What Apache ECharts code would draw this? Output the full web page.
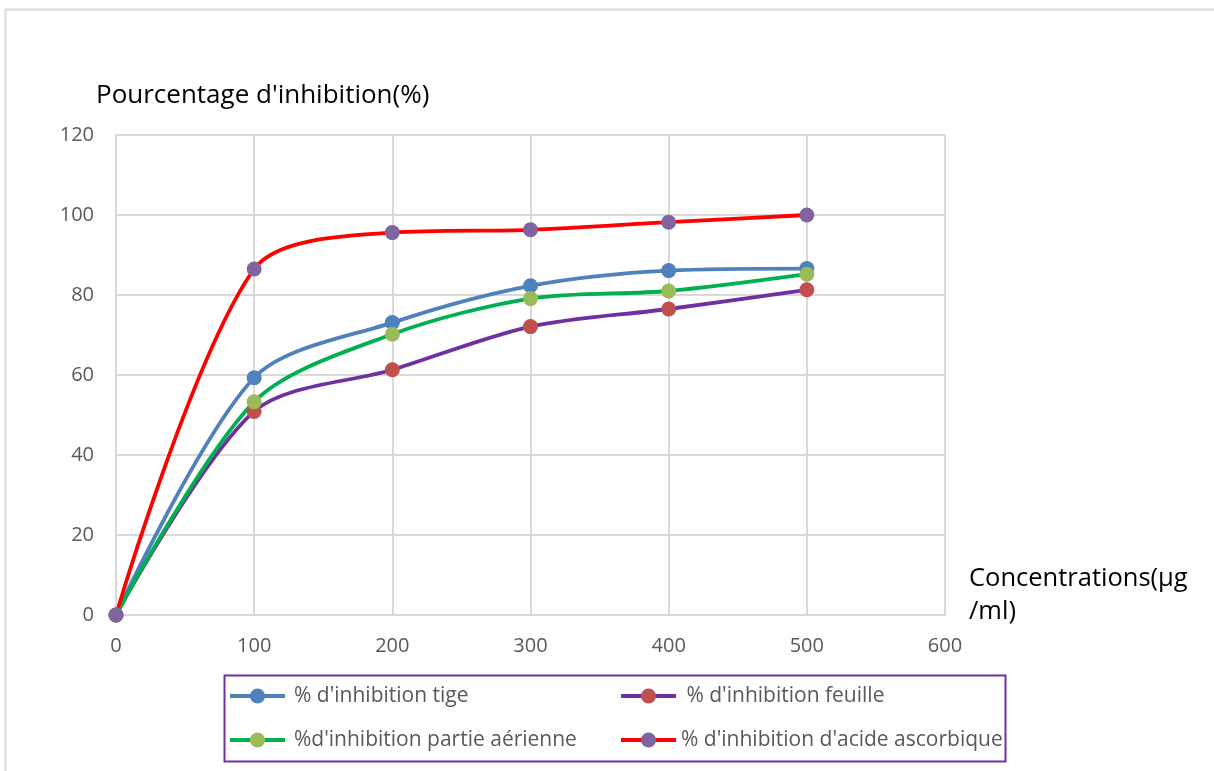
<html>
<head>
<meta http-equiv="content-type" content="text/html; charset=utf-8">
<script src="https://cdn.jsdelivr.net/npm/echarts@6/dist/echarts.min.js"></script>
<style>
html, body { margin: 0; padding: 0; background: #ffffff; }
#chart { width: 1214px; height: 771px; }
</style>
<title>Pourcentage d'inhibition</title>
</head>
<body>
<div id="chart"></div>
<script type="text/javascript">
////////////////////////////////////////////////////////////////////////////
// data
var concentrations = [0, 100, 200, 300, 400, 500];
var tige = [0, 59.3, 73.1, 82.3, 86.1, 86.6];
var feuille = [0, 50.9, 61.3, 72.1, 76.5, 81.3];
var partieAerienne = [0, 53.3, 70.2, 79.1, 81.0, 85.2];
var acideAscorbique = [0, 86.5, 95.6, 96.3, 98.2, 100];

var names = [
	"% d'inhibition tige",
	" % d'inhibition feuille",
	"%d'inhibition partie aérienne",
	"% d'inhibition d'acide ascorbique"
];

////////////////////////////////////////////////////////////////////////////
var font = "'Open Sans', sans-serif";

function pairs(ys) {
	var d = [];
	for (var i = 0; i < concentrations.length; i++) d.push([concentrations[i], ys[i]]);
	return d;
}

function mkSeries(name, ys, lineCol, dotCol) {
	return {
		name: name,
		type: 'line',
		data: pairs(ys),
		smooth: 0.3,
		symbol: 'circle',
		symbolSize: 15,
		lineStyle: { color: lineCol, width: 3.8 },
		itemStyle: { color: dotCol },
		emphasis: { disabled: true }
	};
}

function legendText(padLeft) {
	return { color: '#595959', fontSize: 21, fontFamily: font, lineHeight: 24, padding: [0, 0, 0, padLeft] };
}

var option = {
	animation: false,
	backgroundColor: '#ffffff',
	grid: { left: 116, right: 269, top: 135, bottom: 156 },
	title: [
		{
			text: "Pourcentage d'inhibition(%)",
			left: 91, top: 76,
			textStyle: { color: '#000000', fontSize: 26, fontWeight: 'normal', fontFamily: font, lineHeight: 30 }
		},
		{
			text: "Concentrations(µg\n/ml)",
			left: 964, top: 557,
			textStyle: { color: '#000000', fontSize: 25.5, fontWeight: 'normal', fontFamily: font, lineHeight: 33 }
		}
	],
	xAxis: {
		type: 'value',
		min: 0, max: 600, interval: 100,
		axisLine: { show: true, lineStyle: { color: '#d9d9d9', width: 1.5 } },
		axisTick: { show: false },
		splitLine: { show: true, lineStyle: { color: '#d9d9d9', width: 2 } },
		axisLabel: { color: '#595959', fontSize: 20, fontFamily: font, margin: 21 }
	},
	yAxis: {
		type: 'value',
		min: 0, max: 120, interval: 20,
		axisLine: { show: true, lineStyle: { color: '#d9d9d9', width: 1.5 } },
		axisTick: { show: false },
		splitLine: { show: true, lineStyle: { color: '#d9d9d9', width: 2 } },
		axisLabel: { color: '#595959', fontSize: 20, fontFamily: font, margin: 22 }
	},
	legend: [
		{
			data: [names[0], names[2]],
			orient: 'vertical',
			left: 228, top: 684,
			padding: 0,
			itemWidth: 55, itemHeight: 19, itemGap: 20,
			lineStyle: { width: 4 },
			textStyle: legendText(4),
			selectedMode: false
		},
		{
			data: [names[1], names[3]],
			orient: 'vertical',
			left: 619, top: 684,
			padding: 0,
			itemWidth: 55, itemHeight: 19, itemGap: 20,
			lineStyle: { width: 4 },
			textStyle: legendText(0),
			selectedMode: false
		}
	],
	graphic: [
		{
			type: 'rect', left: 3, top: 7, silent: true,
			shape: { width: 1300, height: 900 },
			style: { fill: 'none', stroke: '#d9d9d9', lineWidth: 2 }
		},
		{
			type: 'rect', left: 222, top: 673, silent: true,
			shape: { width: 781, height: 86 },
			style: { fill: 'none', stroke: '#7030a0', lineWidth: 2 }
		}
	],
	series: [
		mkSeries(names[0], tige, '#4f81bd', '#4f81bd'),
		mkSeries(names[1], feuille, '#7030a0', '#c0504d'),
		mkSeries(names[2], partieAerienne, '#00b050', '#9bbb59'),
		mkSeries(names[3], acideAscorbique, '#ff0000', '#8064a2')
	]
};

var chart = echarts.init(document.getElementById('chart'));
chart.setOption(option);
</script>
</body>
</html>
